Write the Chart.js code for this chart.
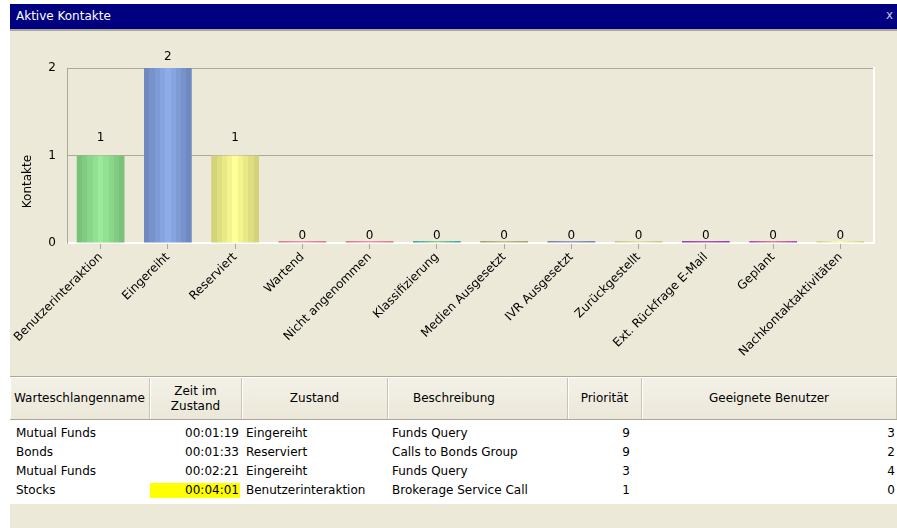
<!DOCTYPE html>
<html>
<head>
<meta charset="utf-8">
<title>Aktive Kontakte</title>
<script src="https://cdn.jsdelivr.net/npm/chart.js@4/dist/chart.umd.min.js"></script>
<style>
  html, body { margin: 0; padding: 0; background: #fff; }
  body { width: 897px; height: 528px; position: relative; overflow: hidden; font: 12px "DejaVu Sans", sans-serif; color: #000; }
  #win { position: absolute; left: 10px; top: 4px; width: 887px; height: 524px; background: #ece9d8; }
  #titlebar { position: absolute; left: 0; top: 0; width: 887px; height: 25px; background: #000080; color: #fff; border-bottom: 2px solid #aca899; }
  #titlebar .txt { position: absolute; left: 6px; top: 5px; }
  #titlebar .close { position: absolute; right: 4px; top: 4px; color: #c8c8d8; }
  #chart-wrap { position: absolute; left: 0; top: 27px; width: 887px; height: 345px; }
  #grid { position: absolute; left: 0; top: 372px; width: 887px; border-top: 1px solid #aca899; }
  #grid .hdr { position: relative; height: 41px; border-top: 1px solid #fff; border-bottom: 1px solid #aca899;
               background: linear-gradient(#f3f1e7, #ebe8d9); }
  #grid .hdr div { position: absolute; top: 0; height: 41px; box-sizing: border-box; border-right: 1px solid #c7c4b4;
                   box-shadow: inset 1px 0 0 #fff; display: flex; align-items: center; line-height: 15px; }
  #grid .rows { background: #fff; height: 84px; padding-top: 4px; box-sizing: border-box; }
  #grid .row { position: relative; height: 19px; }
  #grid .row div { position: absolute; top: 0; height: 19px; line-height: 19px; box-sizing: border-box; white-space: nowrap; }
  #grid .hl { background: #ffff00; height: 15px !important; line-height: 15px !important; top: 2px !important; }
</style>
</head>
<body>
<div id="win">
  <div id="titlebar"><span class="txt">Aktive Kontakte</span><span class="close">x</span></div>
  <div id="chart-wrap"><canvas id="chart-kontakte" width="887" height="345"></canvas></div>
  <div id="grid">
    <div class="hdr" id="grid-hdr"></div>
    <div class="rows" id="grid-rows"></div>
  </div>
</div>
<script>
// Daten
const categories = ['Benutzerinteraktion', 'Eingereiht', 'Reserviert', 'Wartend', 'Nicht angenommen',
  'Klassifizierung', 'Medien Ausgesetzt', 'IVR Ausgesetzt', 'Zurückgestellt',
  'Ext. Rückfrage E-Mail', 'Geplant', 'Nachkontaktaktivitäten'];
const kontakte = [1, 2, 1, 0, 0, 0, 0, 0, 0, 0, 0, 0];
const yTicks = [0, 1, 2];

// Farben: [Rand, Mitte]
const barColors = [
  [[118, 188, 118], [154, 234, 154]],
  [[108, 134, 188], [142, 172, 234]],
  [[206, 206, 118], [255, 255, 150]],
  [[214, 118, 138], [240, 150, 168]],
  [[214, 118, 138], [240, 150, 168]],
  [[60, 160, 160], [150, 204, 150]],
  [[160, 160, 106], [192, 192, 140]],
  [[118, 132, 164], [150, 160, 192]],
  [[196, 196, 136], [226, 226, 170]],
  [[150, 60, 170], [184, 84, 176]],
  [[170, 70, 170], [222, 130, 150]],
  [[206, 206, 146], [250, 250, 170]]
];

const tableColumns = [
  { title: 'Warteschlangenname', w: 140, hAlign: 'left', hPad: 4, align: 'left', pad: 6 },
  { title: 'Zeit im<br>Zustand', w: 92, hAlign: 'center', align: 'right', pad: 3 },
  { title: 'Zustand', w: 146, hAlign: 'center', align: 'left', pad: 4 },
  { title: 'Beschreibung', w: 180, hAlign: 'left', hPad: 25, align: 'left', pad: 4 },
  { title: 'Priorität', w: 74, hAlign: 'center', align: 'right', pad: 12 },
  { title: 'Geeignete Benutzer', w: 255, hAlign: 'center', align: 'right', pad: 2 }
];
const tableRows = [
  ['Mutual Funds', '00:01:19', 'Eingereiht', 'Funds Query', '9', '3'],
  ['Bonds', '00:01:33', 'Reserviert', 'Calls to Bonds Group', '9', '2'],
  ['Mutual Funds', '00:02:21', 'Eingereiht', 'Funds Query', '3', '4'],
  ['Stocks', '00:04:01', 'Benutzerinteraktion', 'Brokerage Service Call', '1', '0']
];
const highlightCell = { row: 3, col: 1 };

const BAR_PCT = 0.71;
const GRID_COLOR = '#aca899';

function mix(a, b, t) {
  return 'rgb(' + a.map((v, i) => Math.round(v + (b[i] - v) * t)).join(',') + ')';
}

function stripes(ctx) {
  const chart = ctx.chart;
  const xs = chart.scales.x;
  const pair = barColors[ctx.dataIndex];
  if (!xs || !chart.chartArea) return mix(pair[0], pair[1], 0.5);
  const c = xs.getPixelForValue(ctx.dataIndex);
  const w = xs.width / categories.length * BAR_PCT;
  const g = chart.ctx.createLinearGradient(c - w / 2, 0, c + w / 2, 0);
  const n = 9;
  for (let k = 0; k < n; k++) {
    const t = 1 - Math.abs(2 * (k + 0.5) / n - 1);
    const col = mix(pair[0], pair[1], t);
    g.addColorStop(k / n, col);
    g.addColorStop((k + 1) / n, col);
  }
  return g;
}

const valueLabels = {
  id: 'valueLabels',
  afterDatasetsDraw(chart) {
    const ctx = chart.ctx;
    const area = chart.chartArea;
    const meta = chart.getDatasetMeta(0);
    ctx.save();
    ctx.font = '12px "DejaVu Sans"';
    ctx.fillStyle = '#000';
    ctx.textAlign = 'center';
    ctx.textBaseline = 'middle';
    meta.data.forEach((el, i) => {
      const v = kontakte[i];
      const y = v === 0 ? el.base - 7 : Math.max(el.y - 18, area.top - 11);
      ctx.fillText(String(v), el.x, y);
    });
    ctx.restore();
  }
};

const yTitle = {
  id: 'yTitle',
  afterDraw(chart) {
    const ctx = chart.ctx;
    const area = chart.chartArea;
    ctx.save();
    ctx.font = '12px "DejaVu Sans"';
    ctx.fillStyle = '#000';
    ctx.textAlign = 'center';
    ctx.textBaseline = 'middle';
    ctx.translate(chart.scales.y.left + 18, (area.top + area.bottom) / 2 + 26);
    ctx.rotate(-Math.PI / 2);
    ctx.fillText('Kontakte', 0, 0);
    ctx.restore();
  }
};

new Chart(document.getElementById('chart-kontakte'), {
  type: 'bar',
  data: {
    labels: categories,
    datasets: [{
      data: kontakte,
      backgroundColor: stripes,
      borderWidth: 0,
      minBarLength: 2,
      categoryPercentage: 1,
      barPercentage: BAR_PCT
    }]
  },
  options: {
    responsive: false,
    animation: false,
    layout: { padding: { left: 0, top: 37, right: 23, bottom: 0 } },
    plugins: { legend: { display: false }, tooltip: { enabled: false } },
    scales: {
      x: {
        offset: true,
        grid: { offset: false, drawOnChartArea: false, drawTicks: true, tickLength: 6, color: GRID_COLOR },
        border: { color: '#ffffff', width: 2 },
        ticks: { autoSkip: false, minRotation: 45, maxRotation: 45, padding: 1, color: '#000', font: { family: 'DejaVu Sans', size: 12 } },
        afterFit: s => { s.height = 133; }
      },
      y: {
        min: 0,
        max: 2,
        afterBuildTicks: s => { s.ticks = yTicks.map(v => ({ value: v })); },
        grid: { drawTicks: false, color: c => (c.tick && c.tick.value === 0 ? 'rgba(0,0,0,0)' : GRID_COLOR) },
        border: { color: GRID_COLOR, width: 1 },
        ticks: { padding: 11, color: '#000', font: { family: 'DejaVu Sans', size: 12 } },
        afterFit: s => { s.width = 57; }
      },
      y2: {
        position: 'right',
        min: 0,
        max: 2,
        grid: { drawOnChartArea: false, drawTicks: false },
        border: { color: '#ffffff', width: 2 },
        ticks: { display: false },
        afterFit: s => { s.width = 0; }
      }
    }
  },
  plugins: [valueLabels, yTitle]
});

// Tabelle
const hdr = document.getElementById('grid-hdr');
const rowsEl = document.getElementById('grid-rows');
let left = 0;
const lefts = [];
tableColumns.forEach(col => {
  lefts.push(left);
  const d = document.createElement('div');
  d.style.left = left + 'px';
  d.style.width = col.w + 'px';
  d.style.justifyContent = col.hAlign === 'center' ? 'center' : 'flex-start';
  d.style.textAlign = col.hAlign;
  if (col.hPad) d.style.paddingLeft = col.hPad + 'px';
  d.innerHTML = '<span>' + col.title + '</span>';
  hdr.appendChild(d);
  left += col.w;
});
tableRows.forEach((r, ri) => {
  const row = document.createElement('div');
  row.className = 'row';
  r.forEach((val, ci) => {
    const col = tableColumns[ci];
    const d = document.createElement('div');
    d.style.left = lefts[ci] + 'px';
    d.style.width = col.w + 'px';
    d.style.textAlign = col.align;
    if (col.align === 'left') d.style.paddingLeft = col.pad + 'px';
    else d.style.paddingRight = col.pad + 'px';
    d.textContent = val;
    if (ri === highlightCell.row && ci === highlightCell.col) {
      d.classList.add('hl');
      d.style.width = (col.w - 2) + 'px';
      d.style.paddingRight = (col.pad - 2) + 'px';
    }
    row.appendChild(d);
  });
  rowsEl.appendChild(row);
});
</script>
</body>
</html>
